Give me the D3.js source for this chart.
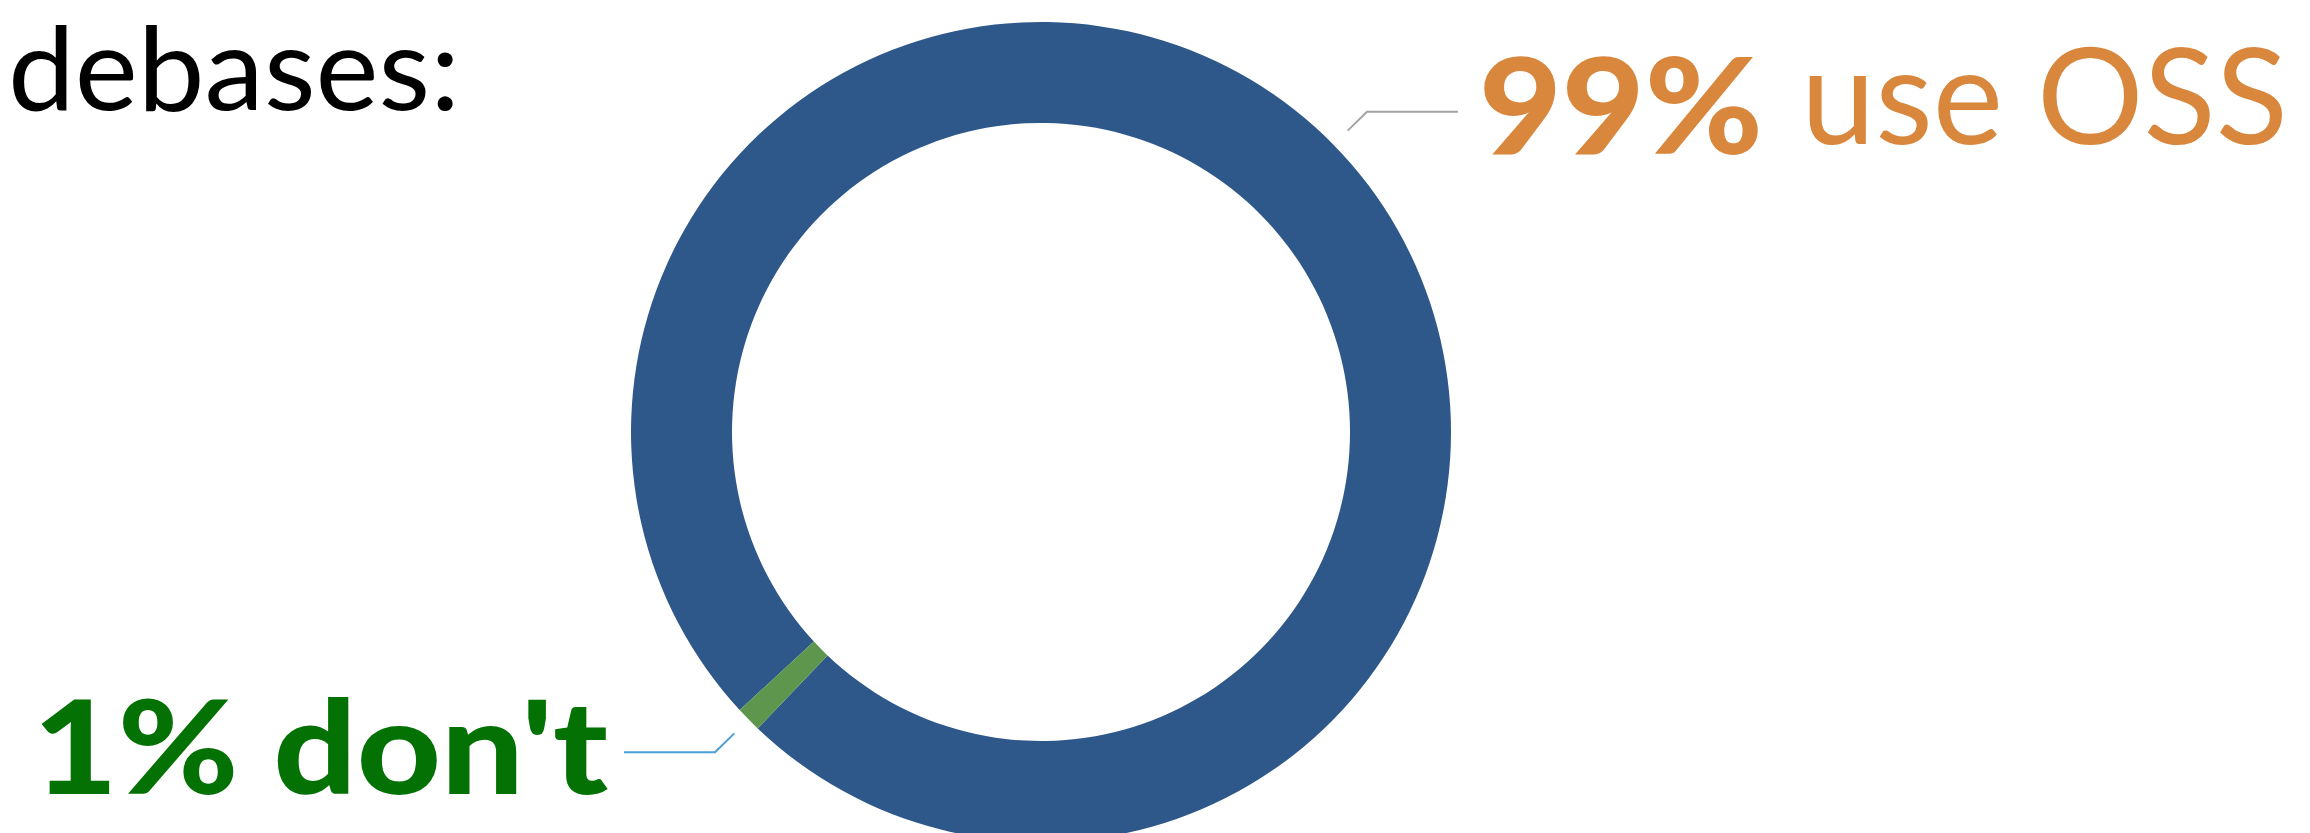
<!DOCTYPE html>
<html>
<head>
<meta charset="utf-8">
<script src="https://cdn.jsdelivr.net/npm/d3@7"></script>
<style>
  body { margin: 0; background: #fff; }
  svg { display: block; }
  text { font-family: Lato, "Open Sans", sans-serif; }
</style>
</head>
<body>
<div id="chart"></div>
<script>
// donut: share of codebases using open source

const categories = ["use OSS", "don't"];
const shares = [99, 1];
const pctLabels = ["99%", "1%"];
const sliceColors = ["#2e5889", "#5e964e"];
const labelColors = ["#d9873c", "#037103"];
const leaderColors = ["#a0a4a3", "#4a9fd4"];
const titleText = "debases:";

const width = 2310, height = 833;
const cx = 1041, cy = 432;
const innerR = 309, outerR = 410;

const svg = d3.select("#chart").append("svg")
    .attr("width", width)
    .attr("height", height);

// title fragment (cut off on the left in the source)
svg.append("text")
    .attr("x", 8)
    .attr("y", 110)
    .attr("font-size", 116)
    .attr("fill", "#000")
    .attr("textLength", 452)
    .attr("lengthAdjust", "spacingAndGlyphs")
    .text(titleText);

const g = svg.append("g")
    .attr("transform", "translate(" + cx + "," + cy + ")");

const startAngle = -132.7 * Math.PI / 180;
const pie = d3.pie()
    .sort(null)
    .value(d => d)
    .startAngle(startAngle)
    .endAngle(startAngle + 2 * Math.PI);

const arcs = pie(shares);

const arc = d3.arc()
    .innerRadius(innerR)
    .outerRadius(outerR);

g.selectAll(".slice")
    .data(arcs)
    .enter()
    .append("path")
    .attr("class", "slice")
    .attr("d", arc)
    .attr("fill", (d, i) => sliceColors[i]);

// leader lines: radial stub, then horizontal run
const polar = (a, r) => [r * Math.sin(a), -r * Math.cos(a)];
const runLen = 91;

const leaders = arcs.map((d, i) => {
    let mid = (d.startAngle + d.endAngle) / 2;
    let p1 = polar(mid, 430);
    let p2 = polar(mid, 457);
    let dir = Math.sin(mid) > 0 ? 1 : -1;
    let p3 = [p2[0] + dir * runLen, p2[1]];
    return { i: i, pts: [p1, p2, p3], dir: dir };
});

g.selectAll(".leader")
    .data(leaders)
    .enter()
    .append("path")
    .attr("class", "leader")
    .attr("d", d => d3.line()(d.pts))
    .attr("fill", "none")
    .attr("stroke", d => leaderColors[d.i])
    .attr("stroke-width", 2);

// top-right label: "99%" heavy + "use OSS" regular
let useLeader = leaders[0];
let tx = useLeader.pts[2][0] + 21, ty = useLeader.pts[2][1];
g.append("text")
    .attr("x", tx)
    .attr("y", ty + 42)
    .attr("font-size", 134)
    .attr("font-weight", 900)
    .attr("fill", labelColors[0])
    .attr("textLength", 284)
    .attr("lengthAdjust", "spacingAndGlyphs")
    .text(pctLabels[0]);
g.append("text")
    .attr("x", tx + 322)
    .attr("y", ty + 32)
    .attr("font-size", 134)
    .attr("fill", labelColors[0])
    .attr("textLength", 487)
    .attr("lengthAdjust", "spacingAndGlyphs")
    .text(categories[0]);

// bottom-left label
let dontLeader = leaders[1];
g.append("text")
    .attr("x", dontLeader.pts[2][0] - 16)
    .attr("y", dontLeader.pts[2][1] + 42)
    .attr("text-anchor", "end")
    .attr("font-size", 130)
    .attr("font-weight", 900)
    .attr("fill", labelColors[1])
    .attr("textLength", 575)
    .attr("lengthAdjust", "spacingAndGlyphs")
    .text(pctLabels[1] + " " + categories[1]);
</script>
</body>
</html>
